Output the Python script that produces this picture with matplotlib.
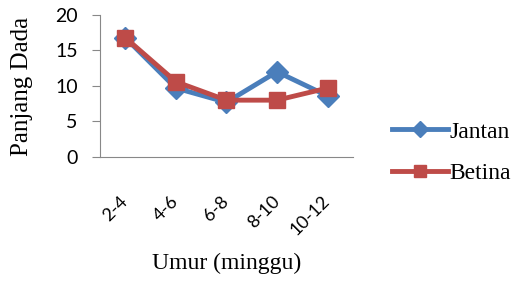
import numpy as np
import matplotlib.pyplot as plt

# data
umur = ['2-4', '4-6', '6-8', '8-10', '10-12']
jantan = [16.8, 9.7, 7.7, 12.0, 8.6]
betina = [16.8, 10.6, 8.0, 8.0, 9.7]
yticks = [0, 5, 10, 15, 20]

fig = plt.figure(figsize=(5.29, 2.87), dpi=100)
ax = fig.add_axes([0.189, 0.453, 0.478, 0.495])

x = np.arange(len(umur))
ax.plot(x, jantan, color='#4a7ebb', lw=3.5, marker='D', ms=11, label='Jantan')
ax.plot(x, betina, color='#be4b48', lw=3.5, marker='s', ms=12, label='Betina')

ax.set_xlim(-0.5, len(umur) - 0.5)
ax.set_ylim(0, 20)
ax.set_yticks(yticks)
ax.set_xticks(x)
ax.set_xticklabels(umur, rotation=45, ha='right', va='center',
                   rotation_mode='anchor', family='Lato', fontsize=13)
for t in ax.get_yticklabels():
    t.set_family('Lato')
    t.set_fontsize(14)
ax.tick_params(axis='x', length=0, pad=30)
ax.tick_params(axis='y', length=6, color='#888888', pad=10)

for s in ['top', 'right']:
    ax.spines[s].set_visible(False)
for s in ['left', 'bottom']:
    ax.spines[s].set_color('#888888')

ax.set_ylabel('Panjang Dada', family='Liberation Serif', fontsize=18)
ax.yaxis.set_label_coords(-0.308, 0.5)
ax.yaxis.label.set_va('center')
ax.set_xlabel('Umur (minggu)', family='Liberation Serif', fontsize=17)
ax.xaxis.set_label_coords(0.502, -0.746)
ax.xaxis.label.set_va('center')

ax.legend(loc='center left', bbox_to_anchor=(1.07, 0.03), frameon=False,
          prop={'family': 'Liberation Serif', 'size': 17}, handlelength=2.4,
          labelspacing=0.85, handletextpad=0.05, markerscale=0.75)

fig.savefig('out.png', dpi=100)
